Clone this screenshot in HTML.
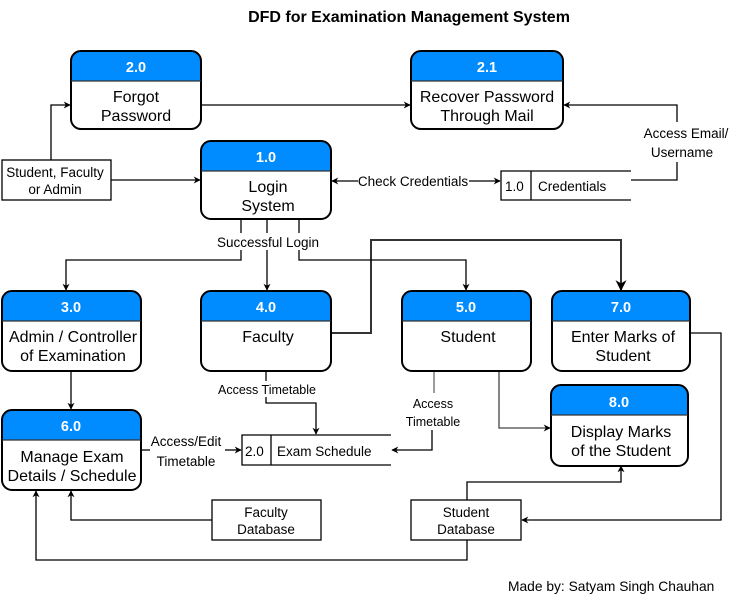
<!DOCTYPE html>
<html><head><meta charset="utf-8"><style>
html,body{margin:0;padding:0;background:#fff;}
svg{display:block;font-family:"Liberation Sans",Arial,sans-serif;}
</style></head><body>
<svg width="731" height="601" viewBox="0 0 731 601" xmlns="http://www.w3.org/2000/svg">
<defs>
<marker id="a" viewBox="0 0 10 10" refX="9" refY="5" markerWidth="7" markerHeight="7" orient="auto" markerUnits="userSpaceOnUse"><path d="M0,0 L10,5 L0,10 L3,5 z" fill="#000"/></marker>
<marker id="b" viewBox="0 0 10 10" refX="9" refY="5" markerWidth="11" markerHeight="11" orient="auto" markerUnits="userSpaceOnUse"><path d="M0,0 L10,5 L0,10 L3,5 z" fill="#000"/></marker>
</defs>
<text x="409" y="22" font-size="16" font-weight="bold" text-anchor="middle">DFD for Examination Management System</text>

<g fill="none" stroke="#000" stroke-width="1.3">
<path d="M51 160 V105 H70" marker-end="url(#a)"/>
<path d="M111 180 H200" marker-end="url(#a)"/>
<path d="M201 105 H410" marker-end="url(#a)"/>
<path d="M631 180 H677 V162"/>
<path d="M677 122 V105 H564" marker-end="url(#a)"/>
<path d="M358 181 H332" marker-end="url(#a)"/>
<path d="M469 181 H500" marker-end="url(#a)"/>
<path d="M241 220 V233"/><path d="M267 220 V233"/><path d="M299 220 V233"/>
<path d="M241 250 V260 H66 V290" marker-end="url(#a)"/>
<path d="M267 250 V290" marker-end="url(#a)"/>
<path d="M299 250 V260 H466 V290" marker-end="url(#a)"/>
<path d="M71 371 V409" marker-end="url(#a)"/>
<path d="M266 371 V381"/>
<path d="M266 397 V403 H316 V434" marker-end="url(#a)"/>
<path d="M434 371 V393" stroke="#666"/>
<path d="M432 430 V450 H392" marker-end="url(#a)"/>
<path d="M499 371 V428 H550" stroke="#444" marker-end="url(#a)"/>
<path d="M142 450 H150"/>
<path d="M225 450 H241" marker-end="url(#a)"/>
<path d="M690 333 H721 V520 H522" marker-end="url(#a)"/>
<path d="M467 500 V482 H621 V466" marker-end="url(#a)"/>
<path d="M467 540 V560 H36 V491" marker-end="url(#a)"/>
<path d="M212 520 H71 V491" marker-end="url(#a)"/>
</g>
<path d="M331 333 H371 V240 H621 V290" fill="none" stroke="#000" stroke-width="2" stroke-opacity="0.8" marker-end="url(#b)"/>

<g font-size="16" text-anchor="middle">
<g>
<path d="M71 81 V61 Q71 51 81 51 H191 Q201 51 201 61 V81 Z" fill="#008CFF"/>
<rect x="71" y="51" width="130" height="78" rx="10" fill="none" stroke="#000" stroke-width="2"/>
<line x1="71" y1="81" x2="201" y2="81" stroke="#333" stroke-width="1.3"/>
<text x="136" y="72" fill="#fff" font-weight="bold" font-size="14.5">2.0</text>
<text x="136" y="102">Forgot</text><text x="136" y="121">Password</text>
</g>
<g>
<path d="M411 81 V61 Q411 51 421 51 H553 Q563 51 563 61 V81 Z" fill="#008CFF"/>
<rect x="411" y="51" width="152" height="78" rx="10" fill="none" stroke="#000" stroke-width="2"/>
<line x1="411" y1="81" x2="563" y2="81" stroke="#333" stroke-width="1.3"/>
<text x="487" y="72" fill="#fff" font-weight="bold" font-size="14.5">2.1</text>
<text x="487" y="102">Recover Password</text><text x="487" y="121">Through Mail</text>
</g>
<g>
<path d="M201 171 V151 Q201 141 211 141 H321 Q331 141 331 151 V171 Z" fill="#008CFF"/>
<rect x="201" y="141" width="130" height="78" rx="10" fill="none" stroke="#000" stroke-width="2"/>
<line x1="201" y1="171" x2="331" y2="171" stroke="#333" stroke-width="1.3"/>
<text x="266" y="162" fill="#fff" font-weight="bold" font-size="14.5">1.0</text>
<text x="268" y="192">Login</text><text x="268" y="211">System</text>
</g>
<g>
<path d="M2 321 V301 Q2 291 12 291 H131 Q141 291 141 301 V321 Z" fill="#008CFF"/>
<rect x="2" y="291" width="139" height="80" rx="10" fill="none" stroke="#000" stroke-width="2"/>
<line x1="2" y1="321" x2="141" y2="321" stroke="#333" stroke-width="1.3"/>
<text x="71" y="312" fill="#fff" font-weight="bold" font-size="14.5">3.0</text>
<text x="73" y="342">Admin / Controller</text><text x="73" y="361">of Examination</text>
</g>
<g>
<path d="M201 321 V301 Q201 291 211 291 H321 Q331 291 331 301 V321 Z" fill="#008CFF"/>
<rect x="201" y="291" width="130" height="80" rx="10" fill="none" stroke="#000" stroke-width="2"/>
<line x1="201" y1="321" x2="331" y2="321" stroke="#333" stroke-width="1.3"/>
<text x="266" y="312" fill="#fff" font-weight="bold" font-size="14.5">4.0</text>
<text x="268" y="342">Faculty</text>
</g>
<g>
<path d="M402 321 V301 Q402 291 412 291 H521 Q531 291 531 301 V321 Z" fill="#008CFF"/>
<rect x="402" y="291" width="129" height="80" rx="10" fill="none" stroke="#000" stroke-width="2"/>
<line x1="402" y1="321" x2="531" y2="321" stroke="#333" stroke-width="1.3"/>
<text x="466" y="312" fill="#fff" font-weight="bold" font-size="14.5">5.0</text>
<text x="468" y="342">Student</text>
</g>
<g>
<path d="M552 321 V301 Q552 291 562 291 H680 Q690 291 690 301 V321 Z" fill="#008CFF"/>
<rect x="552" y="291" width="138" height="80" rx="10" fill="none" stroke="#000" stroke-width="2"/>
<line x1="552" y1="321" x2="690" y2="321" stroke="#333" stroke-width="1.3"/>
<text x="621" y="312" fill="#fff" font-weight="bold" font-size="14.5">7.0</text>
<text x="623" y="342">Enter Marks of</text><text x="623" y="361">Student</text>
</g>
<g>
<path d="M2 440 V420 Q2 410 12 410 H131 Q141 410 141 420 V440 Z" fill="#008CFF"/>
<rect x="2" y="410" width="139" height="80" rx="10" fill="none" stroke="#000" stroke-width="2"/>
<line x1="2" y1="440" x2="141" y2="440" stroke="#333" stroke-width="1.3"/>
<text x="71" y="431" fill="#fff" font-weight="bold" font-size="14.5">6.0</text>
<text x="72" y="462">Manage Exam</text><text x="72" y="481">Details / Schedule</text>
</g>
<g>
<path d="M551 415 V395 Q551 385 561 385 H678 Q688 385 688 395 V415 Z" fill="#008CFF"/>
<rect x="551" y="385" width="137" height="81" rx="10" fill="none" stroke="#000" stroke-width="2"/>
<line x1="551" y1="415" x2="688" y2="415" stroke="#333" stroke-width="1.3"/>
<text x="619" y="407" fill="#fff" font-weight="bold" font-size="14.5">8.0</text>
<text x="621" y="437">Display Marks</text><text x="621" y="456">of the Student</text>
</g>
</g>

<g fill="#fff" stroke="#000" stroke-width="1.3">
<rect x="2" y="160" width="109" height="40"/>
<rect x="212" y="500" width="109" height="40"/>
<rect x="411" y="500" width="110" height="40"/>
</g>
<g font-size="13.5" text-anchor="middle">
<text x="55" y="177">Student, Faculty</text><text x="55" y="194">or Admin</text>
<text x="266" y="517">Faculty</text><text x="266" y="534">Database</text>
<text x="466" y="517">Student</text><text x="466" y="534">Database</text>
</g>

<g fill="none" stroke="#000" stroke-width="1.3">
<path d="M631 171 H501 V200 H631"/><path d="M531 171 V200"/>
<path d="M391 435 H242 V465 H391"/><path d="M271 435 V465"/>
</g>
<g font-size="13.5">
<text x="505" y="191">1.0</text><text x="538" y="191">Credentials</text>
<text x="245" y="456">2.0</text><text x="277" y="456">Exam Schedule</text>
</g>

<g font-size="13.5" text-anchor="middle">
<rect x="205" y="234" width="124" height="15" fill="#fff"/>
<text x="268" y="247">Successful Login</text>
<text x="413" y="186">Check Credentials</text>
<text x="686" y="138">Access Email/</text><text x="682" y="157">Username</text>
<text x="186" y="446">Access/Edit</text><text x="186" y="466">Timetable</text>
</g>
<g font-size="12.5" text-anchor="middle">
<text x="267" y="394">Access Timetable</text>
<text x="433" y="408">Access</text><text x="433" y="426">Timetable</text>
</g>
<text x="508" y="591" font-size="13.8">Made by: Satyam Singh Chauhan</text>
</svg>
</body></html>
